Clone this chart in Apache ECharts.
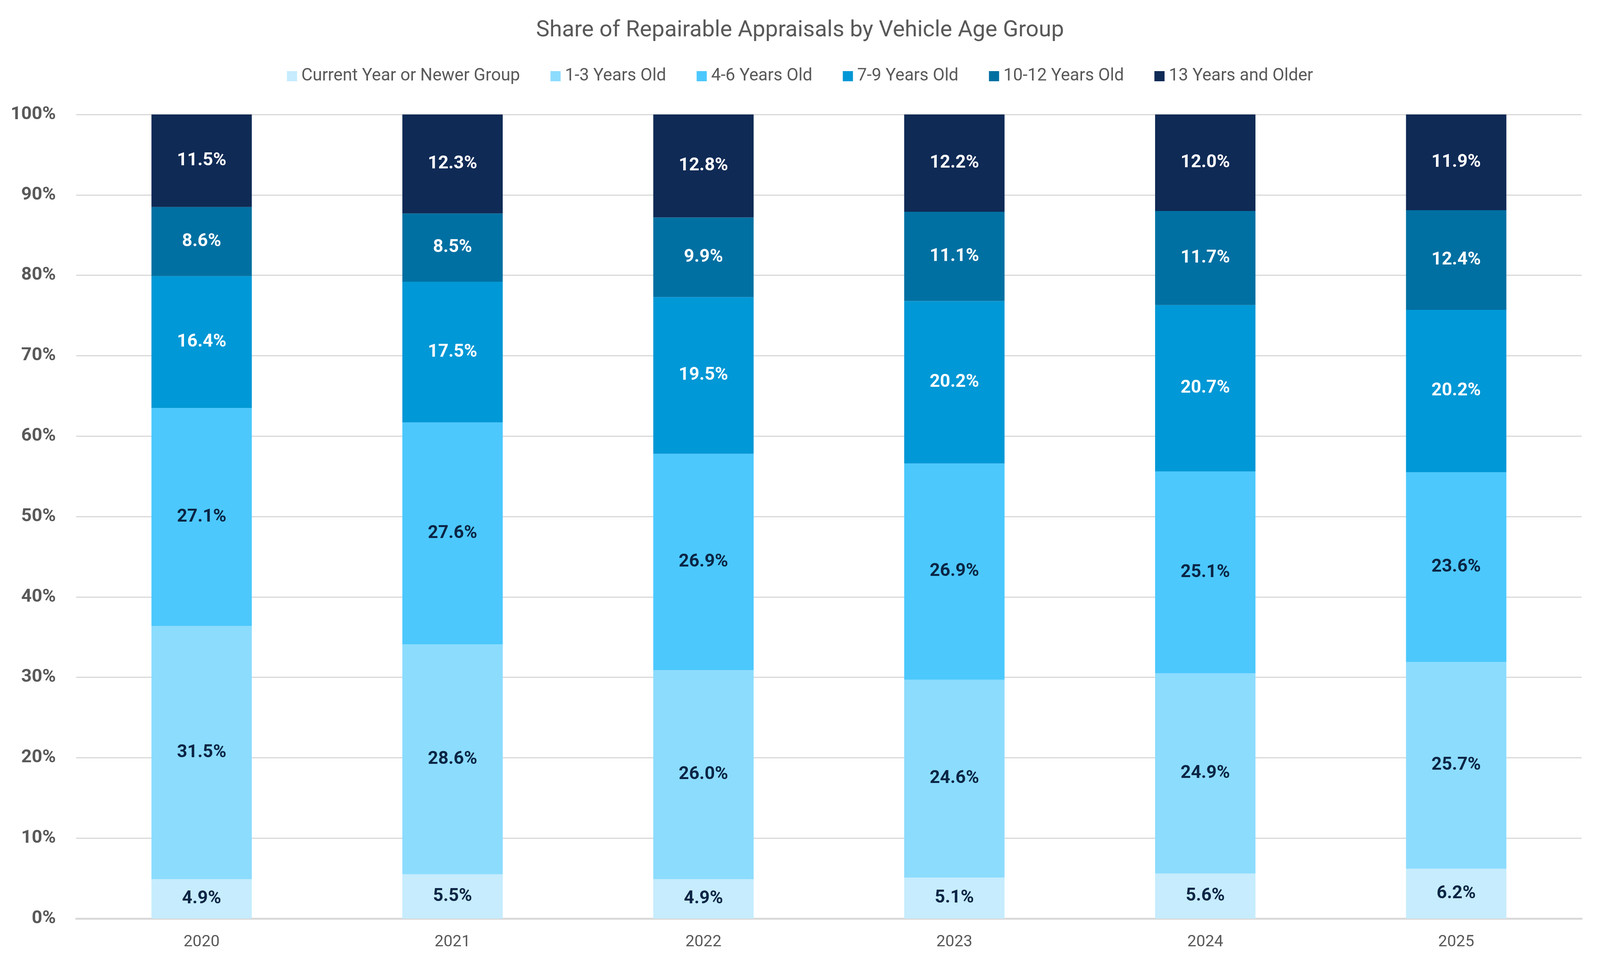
<!DOCTYPE html>
<html>
  <head>
    <meta charset="utf-8">
    <title>Share of Repairable Appraisals by Vehicle Age Group</title>
    <script src="https://cdn.jsdelivr.net/npm/echarts@6/dist/echarts.min.js"></script>
    <style>
    html, body { margin: 0; padding: 0; background: #fff; overflow: hidden; }
    #chart { width: 100vw; height: 100vh; }
    </style>
  </head>
  <body>
    <div id="chart"></div>
    <script type="text/javascript">
      var years = ['2020', '2021', '2022', '2023', '2024', '2025'];
      var groups = ['Current Year or Newer Group', '1-3 Years Old', '4-6 Years Old',
                    '7-9 Years Old', '10-12 Years Old', '13 Years and Older'];

      // share (%) per group, one value per year
      var currentYear = [4.9, 5.5, 4.9, 5.1, 5.6, 6.2];
      var age1to3     = [31.5, 28.6, 26.0, 24.6, 24.9, 25.7];
      var age4to6     = [27.1, 27.6, 26.9, 26.9, 25.1, 23.6];
      var age7to9     = [16.4, 17.5, 19.5, 20.2, 20.7, 20.2];
      var age10to12   = [8.6, 8.5, 9.9, 11.1, 11.7, 12.4];
      var age13plus   = [11.5, 12.3, 12.8, 12.2, 12.0, 11.9];

      var values = [currentYear, age1to3, age4to6, age7to9, age10to12, age13plus];
      var colors = ['#c6ecfd', '#8cdcfe', '#4cc8fd', '#0098d6', '#0070a2', '#0f2a55'];
      var labelColors = ['#0b2545', '#0b2545', '#0b2545', '#ffffff', '#ffffff', '#ffffff'];

      var font = "Roboto, sans-serif";
      // layout numbers are for a 4400x2475 page; scale them to the real viewport
      var el = document.getElementById('chart');
      var kx = el.clientWidth / 4400;
      var ky = el.clientHeight / 2475;
      function sx(v) { return Math.round(v * kx); }
      function sy(v) { return Math.round(v * ky); }

      var series = groups.map(function (name, i) {
        return {
          name: name,
          type: 'bar',
          stack: 'share',
          barWidth: '40%',
          itemStyle: { color: colors[i] },
          label: {
            show: true,
            position: 'inside',
            color: labelColors[i],
            fontFamily: font,
            fontWeight: 'bold',
            fontSize: sx(49),
            formatter: function (p) { return p.value.toFixed(1) + '%'; }
          },
          emphasis: { disabled: true },
          data: values[i]
        };
      });

      var chart = echarts.init(el);
      var option = {
        animation: false,
        title: {
          text: 'Share of Repairable Appraisals by Vehicle Age Group',
          left: 'center',
          top: sy(44),
          textStyle: { fontFamily: font, fontWeight: 'normal', fontSize: sx(62), color: '#595959' }
        },
        legend: {
          data: groups,
          left: 'center',
          top: sy(168),
          icon: 'rect',
          itemWidth: sx(28),
          itemHeight: sx(28),
          itemGap: sx(84),
          textStyle: { fontFamily: font, fontSize: sx(47), color: '#595959', padding: [0, 0, 0, sx(6)] }
        },
        grid: { left: sx(209), right: sx(50), top: sy(293), bottom: sy(124), containLabel: false },
        xAxis: {
          type: 'category',
          data: years,
          axisTick: { show: false },
          axisLine: { lineStyle: { color: '#d9d9d9', width: sy(5) } },
          axisLabel: { fontFamily: font, fontSize: sx(44), color: '#595959', margin: sy(40) }
        },
        yAxis: {
          type: 'value',
          min: 0,
          max: 100,
          interval: 10,
          axisLine: { show: false },
          axisTick: { show: false },
          splitLine: { lineStyle: { color: '#d9d9d9', width: sy(3) } },
          axisLabel: {
            formatter: '{value}%',
            fontFamily: font,
            fontWeight: 'bold',
            fontSize: sx(50),
            color: '#595959',
            margin: sx(56)
          }
        },
        series: series
      };
      chart.setOption(option);
    </script>
  </body>
</html>
